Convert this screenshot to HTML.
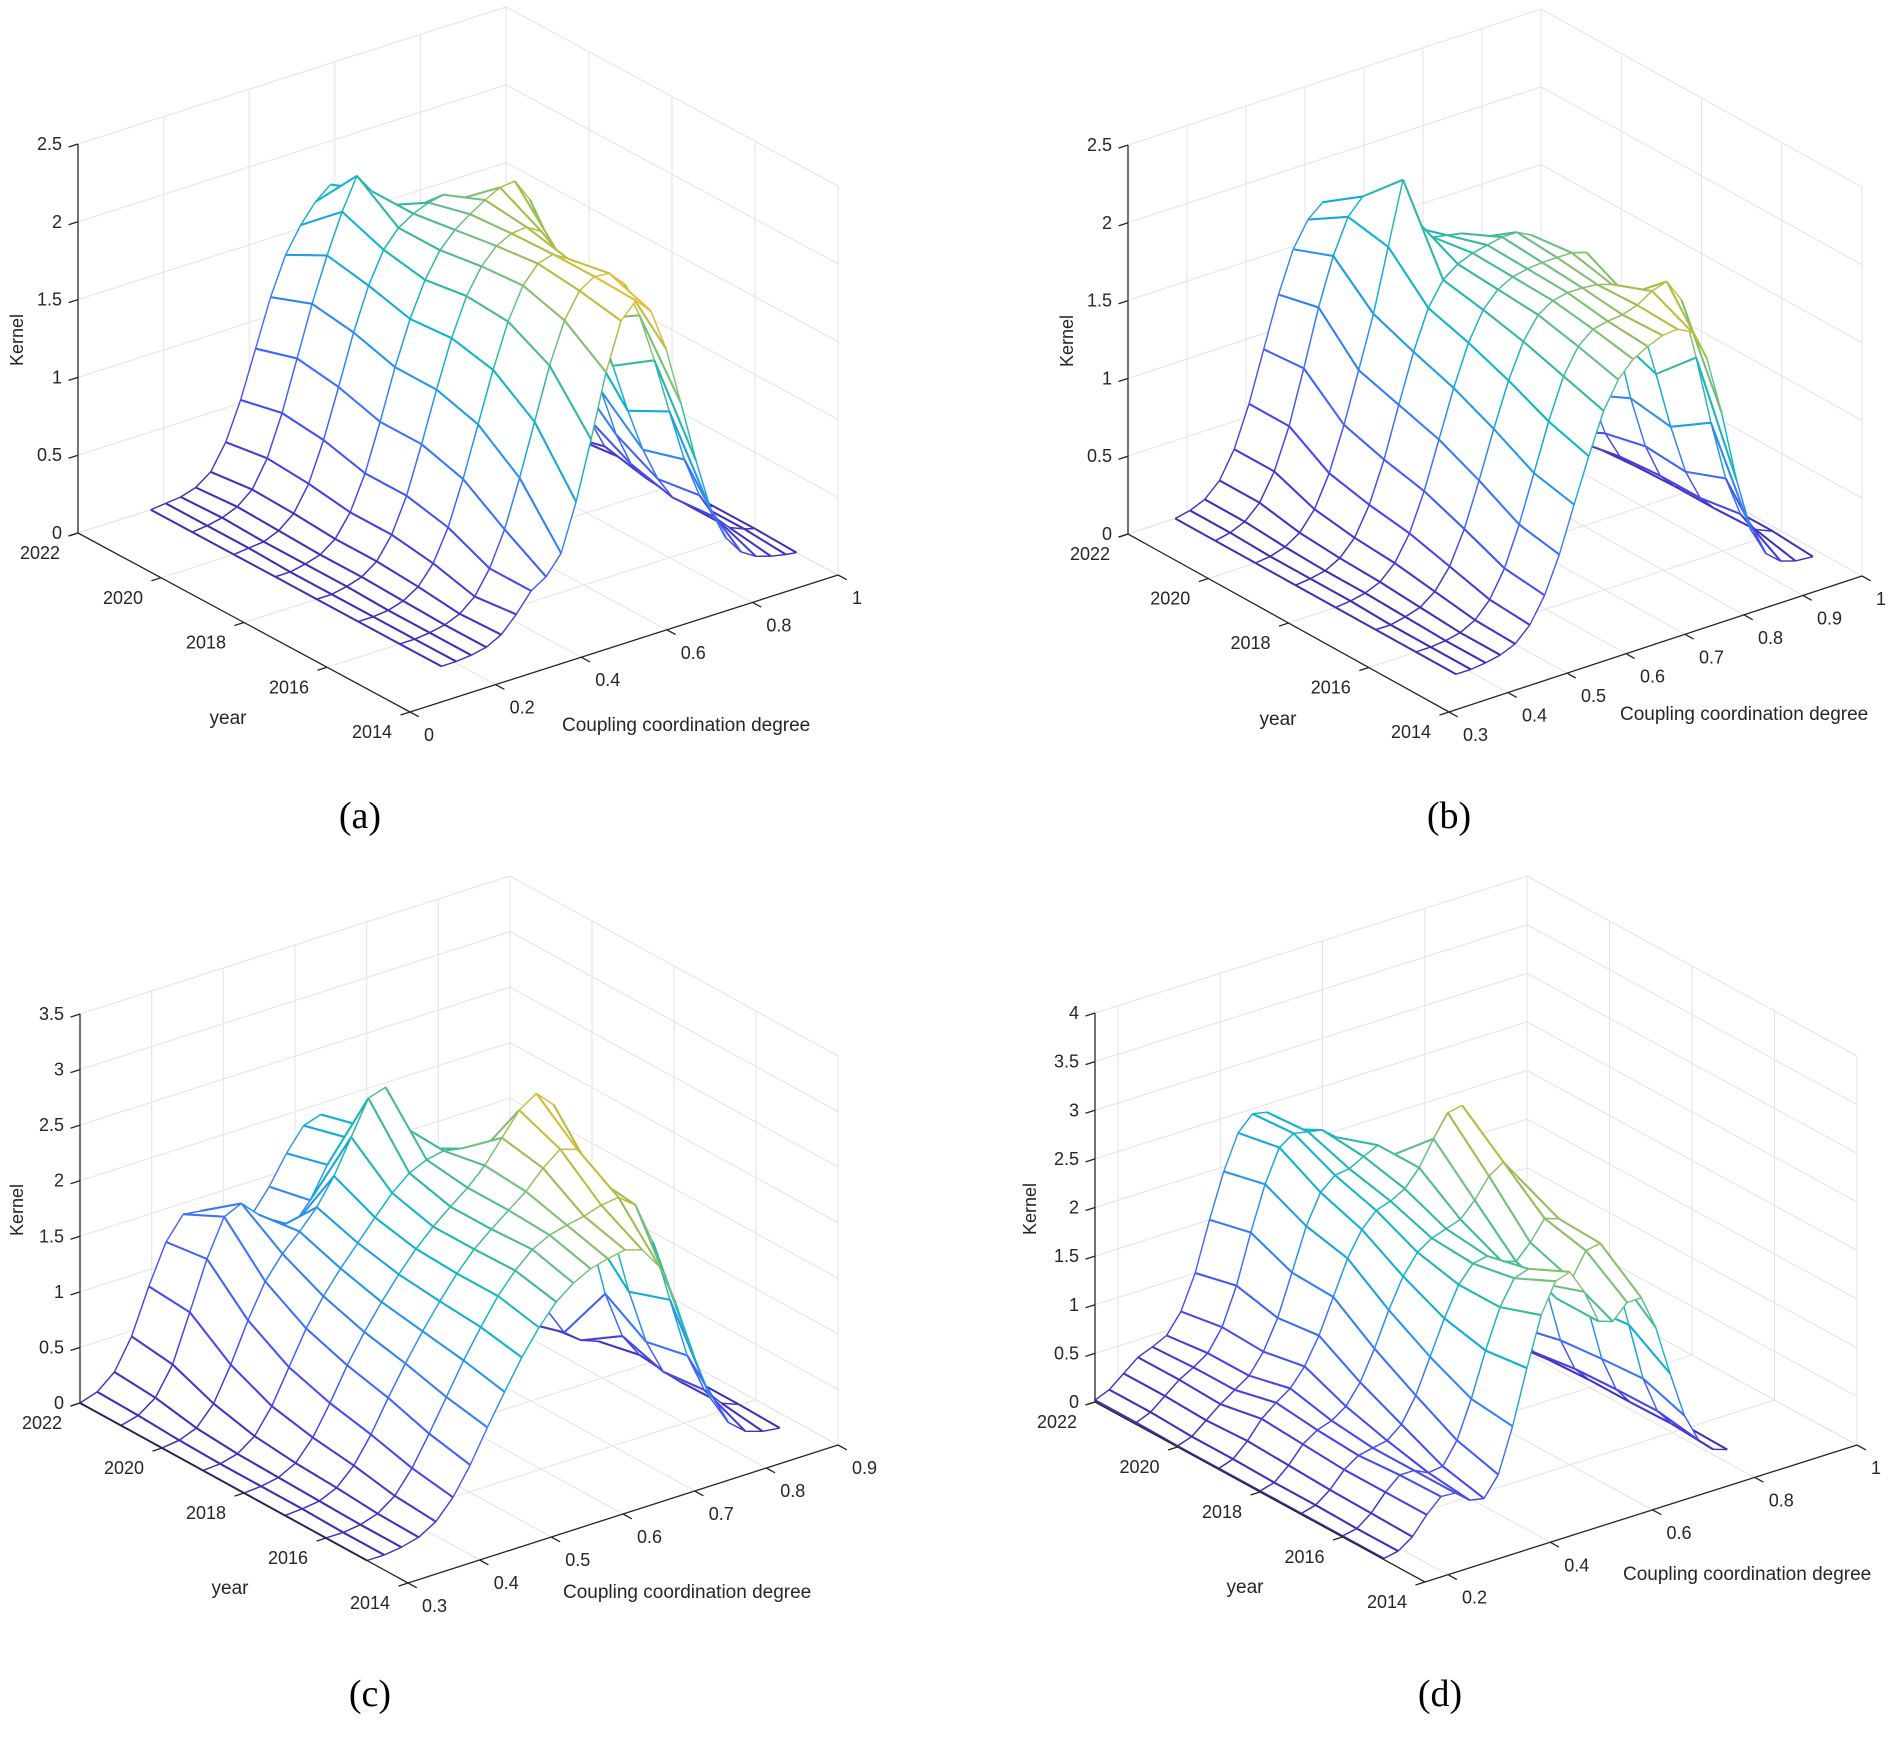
<!DOCTYPE html>
<html>
<head>
<meta charset="utf-8">
<style>
html,body{margin:0;padding:0;background:#fff;}
svg{display:block;}
text{font-family:"Liberation Sans",Arial,sans-serif;fill:#262626;}
.cap{font-family:"Liberation Serif","Times New Roman",serif;fill:#000;}
</style>
</head>
<body>
<svg id="fig" width="1902" height="1737" viewBox="0 0 1902 1737" xmlns="http://www.w3.org/2000/svg">
  <rect x="0" y="0" width="1902" height="1737" fill="#fff"/>
  <text class="cap" x="360" y="828" font-size="38" text-anchor="middle">(a)</text>
  <text class="cap" x="1449" y="828" font-size="38" text-anchor="middle">(b)</text>
  <text class="cap" x="370" y="1706" font-size="38" text-anchor="middle">(c)</text>
  <text class="cap" x="1440" y="1706" font-size="38" text-anchor="middle">(d)</text>
</svg>
<script>
// ---------- DATA ----------
const meshYears = [2022, 2021, 2020, 2019, 2018, 2017, 2016, 2015];
const yearTicks = [2014, 2016, 2018, 2020, 2022];

// Panel (a)
const xA = [0.17,0.205,0.24,0.275,0.31,0.345,0.38,0.415,0.45,0.485,0.52,0.555,0.59,0.625,0.66,0.695,0.73,0.765,0.80,0.835,0.87,0.905,0.94,0.975,1.0];
const kernelA = [
  [0,0.01,0.02,0.05,0.12,0.28,0.52,0.82,1.12,1.36,1.52,1.64,1.72,1.68,1.55,1.35,1.1,0.82,0.56,0.34,0.18,0.08,0.03,0.01,0],
  [0,0.01,0.03,0.07,0.15,0.32,0.58,0.9,1.22,1.5,1.75,1.95,1.82,1.7,1.62,1.5,1.3,1.02,0.72,0.45,0.25,0.12,0.05,0.02,0],
  [0,0.01,0.02,0.06,0.14,0.3,0.55,0.86,1.18,1.45,1.65,1.76,1.82,1.86,1.88,1.82,1.65,1.38,1.02,0.68,0.4,0.2,0.09,0.03,0.01],
  [0,0,0.02,0.05,0.12,0.26,0.48,0.78,1.1,1.38,1.6,1.76,1.86,1.93,1.99,2.04,2.05,1.9,1.55,1.1,0.68,0.36,0.16,0.06,0.02],
  [0,0,0.02,0.05,0.12,0.26,0.48,0.78,1.1,1.4,1.64,1.8,1.9,1.95,1.96,1.9,1.75,1.48,1.12,0.75,0.44,0.22,0.1,0.04,0.01],
  [0,0,0.01,0.04,0.1,0.22,0.42,0.7,1.02,1.34,1.62,1.82,1.93,1.96,1.9,1.72,1.45,1.12,0.8,0.52,0.3,0.15,0.07,0.03,0.01],
  [0,0,0.01,0.03,0.07,0.15,0.3,0.52,0.82,1.15,1.48,1.74,1.9,1.96,1.95,1.85,1.62,1.3,0.94,0.6,0.34,0.17,0.07,0.03,0.01],
  [0,0,0.01,0.03,0.08,0.18,0.3,0.36,0.48,0.78,1.15,1.55,1.85,1.95,1.85,1.58,1.2,0.8,0.45,0.24,0.12,0.06,0.03,0.01,0]
];
const xTicksA = [0, 0.2, 0.4, 0.6, 0.8, 1];
const xTickLabelsA = ["0","0.2","0.4","0.6","0.8","1"];
const zTicksA = [0, 0.5, 1, 1.5, 2, 2.5];
const zTickLabelsA = ["0","0.5","1","1.5","2","2.5"];

// Panel (b)
const xB = [0.38,0.405,0.43,0.455,0.48,0.505,0.53,0.555,0.58,0.605,0.63,0.655,0.68,0.705,0.73,0.755,0.78,0.805,0.83,0.855,0.88,0.905,0.93,0.955,0.985];
const kernelB = [
  [0,0.02,0.06,0.15,0.32,0.58,0.9,1.22,1.48,1.64,1.72,1.7,1.62,1.5,1.35,1.18,0.98,0.76,0.54,0.35,0.2,0.1,0.04,0.02,0],
  [0,0.02,0.06,0.15,0.32,0.58,0.92,1.28,1.58,1.8,1.9,1.86,1.75,1.62,1.5,1.36,1.18,0.95,0.7,0.46,0.27,0.14,0.06,0.02,0],
  [0,0.01,0.04,0.1,0.22,0.42,0.7,1.02,1.35,1.75,2.15,1.85,1.72,1.7,1.68,1.62,1.48,1.25,0.96,0.66,0.4,0.2,0.09,0.03,0.01],
  [0,0.01,0.03,0.08,0.18,0.36,0.62,0.94,1.25,1.5,1.65,1.72,1.76,1.78,1.8,1.8,1.75,1.6,1.32,0.95,0.6,0.32,0.14,0.05,0.01],
  [0,0.01,0.03,0.07,0.16,0.32,0.56,0.86,1.16,1.42,1.6,1.7,1.75,1.77,1.78,1.78,1.78,1.75,1.55,1.15,0.72,0.38,0.16,0.06,0.02],
  [0,0,0.02,0.05,0.12,0.25,0.46,0.74,1.04,1.32,1.54,1.68,1.74,1.76,1.76,1.75,1.72,1.62,1.4,1.05,0.68,0.36,0.16,0.06,0.02],
  [0,0,0.01,0.03,0.08,0.18,0.35,0.6,0.9,1.2,1.46,1.62,1.7,1.72,1.73,1.76,1.82,1.85,1.7,1.3,0.85,0.46,0.2,0.07,0.02],
  [0,0,0.01,0.03,0.07,0.16,0.32,0.55,0.84,1.12,1.38,1.55,1.65,1.7,1.74,1.75,1.7,1.5,1.12,0.66,0.3,0.12,0.04,0.01,0]
];
const xTicksB = [0.3,0.4,0.5,0.6,0.7,0.8,0.9,1];
const xTickLabelsB = ["0.3","0.4","0.5","0.6","0.7","0.8","0.9","1"];
const zTicksB = [0, 0.5, 1, 1.5, 2, 2.5];
const zTickLabelsB = ["0","0.5","1","1.5","2","2.5"];

// Panel (c)
const xC = [0.30,0.324,0.348,0.372,0.396,0.42,0.444,0.468,0.492,0.516,0.54,0.564,0.588,0.612,0.636,0.66,0.684,0.708,0.732,0.756,0.78,0.804,0.828,0.852,0.876];
const kernelC = [
  [0,0.05,0.18,0.45,0.85,1.2,1.4,1.38,1.25,1.15,1.2,1.4,1.65,1.85,1.9,1.75,1.4,0.95,0.55,0.28,0.12,0.05,0.02,0.01,0],
  [0,0.04,0.15,0.4,0.82,1.25,1.58,1.65,1.5,1.32,1.3,1.48,1.75,1.95,2.0,1.85,1.5,1.05,0.62,0.32,0.14,0.06,0.02,0.01,0],
  [0,0.02,0.08,0.25,0.55,0.9,1.2,1.4,1.55,1.72,1.95,2.25,2.55,2.6,2.2,1.95,1.7,1.3,0.85,0.48,0.22,0.09,0.03,0.01,0],
  [0,0.01,0.05,0.16,0.38,0.68,0.98,1.22,1.42,1.6,1.78,1.95,2.08,2.15,2.18,2.15,2.05,1.8,1.35,0.85,0.45,0.2,0.08,0.02,0],
  [0,0.01,0.04,0.12,0.3,0.56,0.85,1.1,1.32,1.52,1.7,1.85,1.98,2.1,2.25,2.45,2.65,2.75,2.6,2.1,1.4,0.75,0.32,0.1,0.02],
  [0,0.01,0.03,0.1,0.25,0.48,0.76,1.02,1.26,1.48,1.68,1.85,1.98,2.1,2.22,2.38,2.5,2.45,2.15,1.62,1.02,0.52,0.2,0.06,0.01],
  [0,0,0.02,0.07,0.18,0.38,0.64,0.92,1.2,1.45,1.68,1.86,2.0,2.08,2.12,2.15,2.2,2.22,2.1,1.72,1.15,0.6,0.24,0.07,0.01],
  [0,0,0.02,0.06,0.15,0.32,0.56,0.85,1.12,1.38,1.6,1.78,1.9,1.98,2.02,2.05,2.0,1.8,1.4,0.9,0.46,0.2,0.07,0.02,0]
];
const xTicksC = [0.3,0.4,0.5,0.6,0.7,0.8,0.9];
const xTickLabelsC = ["0.3","0.4","0.5","0.6","0.7","0.8","0.9"];
const zTicksC = [0,0.5,1,1.5,2,2.5,3,3.5];
const zTickLabelsC = ["0","0.5","1","1.5","2","2.5","3","3.5"];

// Panel (d)
const xD = [0.155,0.183,0.211,0.239,0.267,0.295,0.323,0.351,0.379,0.407,0.435,0.463,0.491,0.519,0.547,0.575,0.603,0.631,0.659,0.687,0.715,0.743,0.771,0.799,0.827];
const kernelD = [
  [0.02,0.08,0.2,0.32,0.38,0.45,0.65,1.0,1.5,1.95,2.3,2.45,2.42,2.2,1.8,1.35,0.95,0.62,0.38,0.22,0.12,0.06,0.02,0.01,0],
  [0.02,0.08,0.2,0.32,0.4,0.5,0.72,1.1,1.6,2.05,2.38,2.48,2.45,2.42,2.3,1.95,1.45,0.95,0.55,0.28,0.12,0.05,0.02,0,0],
  [0.01,0.06,0.18,0.3,0.4,0.5,0.7,1.0,1.42,1.85,2.15,2.28,2.3,2.38,2.45,2.3,1.9,1.35,0.82,0.44,0.2,0.08,0.03,0.01,0],
  [0.01,0.06,0.2,0.38,0.5,0.6,0.78,1.05,1.4,1.75,2.0,2.15,2.2,2.28,2.45,2.7,2.92,2.95,2.6,1.85,1.05,0.48,0.18,0.06,0.01],
  [0.01,0.05,0.18,0.35,0.45,0.5,0.6,0.8,1.1,1.45,1.75,1.95,2.05,2.1,2.15,2.3,2.5,2.6,2.4,1.85,1.15,0.58,0.24,0.08,0.02],
  [0.01,0.05,0.16,0.32,0.42,0.45,0.48,0.6,0.85,1.2,1.55,1.85,2.02,2.05,1.95,1.9,2.05,2.25,2.2,1.8,1.2,0.62,0.26,0.08,0.02],
  [0.01,0.04,0.15,0.32,0.45,0.45,0.38,0.4,0.62,1.0,1.45,1.85,2.1,2.15,1.95,1.75,1.9,2.15,2.18,1.85,1.25,0.65,0.27,0.09,0.02],
  [0.01,0.04,0.14,0.32,0.46,0.45,0.33,0.3,0.5,0.95,1.5,2.0,2.3,2.35,2.1,1.75,1.7,1.85,1.85,1.5,0.98,0.5,0.2,0.06,0.01]
];
const xTicksD = [0.2,0.4,0.6,0.8,1];
const xTickLabelsD = ["0.2","0.4","0.6","0.8","1"];
const zTicksD = [0,0.5,1,1.5,2,2.5,3,3.5,4];
const zTickLabelsD = ["0","0.5","1","1.5","2","2.5","3","3.5","4"];

// ---------- RENDERING ----------
const NS = "http://www.w3.org/2000/svg";
const svg = document.getElementById('fig');

const parulaStops = [
  [0.0,[62,38,168]],[0.1,[71,71,235]],[0.2,[62,111,250]],[0.3,[39,150,235]],
  [0.4,[8,181,208]],[0.5,[51,184,161]],[0.6,[113,191,128]],[0.7,[178,189,61]],
  [0.8,[241,186,53]],[0.9,[252,206,37]],[1.0,[249,240,14]]
];
function parula(v){
  v = Math.max(0, Math.min(1, v));
  for (let i = 1; i < parulaStops.length; i++){
    if (v <= parulaStops[i][0]){
      const a = parulaStops[i-1], b = parulaStops[i];
      const f = (v - a[0]) / (b[0] - a[0]);
      const c = a[1].map((ch, k) => Math.round(ch + (b[1][k] - ch) * f));
      return 'rgb(' + c.join(',') + ')';
    }
  }
  return 'rgb(249,240,14)';
}

function mk(tag, attrs, parent){
  const el = document.createElementNS(NS, tag);
  for (const k in attrs) el.setAttribute(k, attrs[k]);
  parent.appendChild(el);
  return el;
}

function drawPanel(cfg, xs, rows, xTicks, xTickLabels, zTicks, zTickLabels){
  const g = mk('g', {}, svg);
  
  
  const zTop = zTicks[zTicks.length - 1];
  const H = 389;
  const FL = [cfg.F[0] - cfg.L[0], cfg.F[1] - cfg.L[1]];
  const RF = [cfg.R[0] - cfg.F[0], cfg.R[1] - cfg.F[1]];
  const xScale = x => (x - cfg.xmin) / (cfg.xmax - cfg.xmin);
  const yScale = yr => (2022 - yr) / 8;
  const zScale = z => z / zTop * H;
  function P(x, yr, z){
    const a = xScale(x), b = yScale(yr);
    return [cfg.L[0] + b * FL[0] + a * RF[0], cfg.L[1] + b * FL[1] + a * RF[1] - zScale(z)];
  }
  const nRF = Math.hypot(RF[0], RF[1]), nFL = Math.hypot(FL[0], FL[1]);
  const ux = [RF[0] / nRF, RF[1] / nRF], uy = [FL[0] / nFL, FL[1] / nFL];

  function line(p, q, color, w, name){
    const l = mk('line', {x1: p[0].toFixed(1), y1: p[1].toFixed(1), x2: q[0].toFixed(1), y2: q[1].toFixed(1), stroke: color, 'stroke-width': w}, g);
    
    
    return l;
  }
  const gc = '#e3e3e3';
  xTicks.forEach(x => line(P(x, 2022, 0), P(x, 2022, zTop), gc, 1, 'gridline-back-x'));
  zTicks.forEach(z => line(P(cfg.xmin, 2022, z), P(cfg.xmax, 2022, z), gc, 1, 'gridline-back-z'));
  yearTicks.forEach(y => line(P(cfg.xmax, y, 0), P(cfg.xmax, y, zTop), gc, 1, 'gridline-side-year'));
  zTicks.forEach(z => line(P(cfg.xmax, 2022, z), P(cfg.xmax, 2014, z), gc, 1, 'gridline-side-z'));
  xTicks.forEach(x => line(P(x, 2022, 0), P(x, 2014, 0), gc, 1, 'gridline-floor-x'));
  yearTicks.forEach(y => line(P(cfg.xmin, y, 0), P(cfg.xmax, y, 0), gc, 1, 'gridline-floor-year'));

  const mesh = mk('g', {}, g);
  
  
  let zmax = 0;
  rows.forEach(r => r.forEach(v => { if (v > zmax) zmax = v; }));
  const xn0 = xs[0], xn1 = xs[xs.length - 1];
  function col(x, yr, z){
    const xn = (x - xn0) / (xn1 - xn0);
    const tn = (2022 - yr) / 7;
    return parula((z / zmax) * (0.2 + 0.5 * xn + 0.35 * tn) + 0.02);
  }
  const quads = [];
  for (let t = 0; t < meshYears.length - 1; t++){
    for (let i = 0; i < xs.length - 1; i++){
      quads.push({t, i, d: (t + 0.5) / 8 - ((xs[i] + xs[i + 1]) / 2 - cfg.xmin) / (cfg.xmax - cfg.xmin)});
    }
  }
  quads.sort((a, b) => a.d - b.d);
  quads.forEach(q => {
    const t = q.t, i = q.i;
    const y0 = meshYears[t], y1 = meshYears[t + 1];
    const z00 = rows[t][i], z01 = rows[t][i + 1], z10 = rows[t + 1][i], z11 = rows[t + 1][i + 1];
    const p00 = P(xs[i], y0, z00), p01 = P(xs[i + 1], y0, z01), p10 = P(xs[i], y1, z10), p11 = P(xs[i + 1], y1, z11);
    const poly = mk('polygon', {points: [p00, p01, p11, p10].map(p => p[0].toFixed(1) + ',' + p[1].toFixed(1)).join(' '), fill: '#fff', stroke: 'none'}, mesh);
    
    
    const ew = 1.4, yw = 2.0;
    const e1 = mk('line', {x1: p00[0].toFixed(1), y1: p00[1].toFixed(1), x2: p01[0].toFixed(1), y2: p01[1].toFixed(1), stroke: col((xs[i] + xs[i + 1]) / 2, y0, (z00 + z01) / 2), 'stroke-width': ew}, mesh);
    
    
    const e2 = mk('line', {x1: p10[0].toFixed(1), y1: p10[1].toFixed(1), x2: p11[0].toFixed(1), y2: p11[1].toFixed(1), stroke: col((xs[i] + xs[i + 1]) / 2, y1, (z10 + z11) / 2), 'stroke-width': ew}, mesh);
    
    
    const e3 = mk('line', {x1: p00[0].toFixed(1), y1: p00[1].toFixed(1), x2: p10[0].toFixed(1), y2: p10[1].toFixed(1), stroke: col(xs[i], (y0 + y1) / 2, (z00 + z10) / 2), 'stroke-width': yw}, mesh);
    
    
    const e4 = mk('line', {x1: p01[0].toFixed(1), y1: p01[1].toFixed(1), x2: p11[0].toFixed(1), y2: p11[1].toFixed(1), stroke: col(xs[i + 1], (y0 + y1) / 2, (z01 + z11) / 2), 'stroke-width': yw}, mesh);
    
    
  });

  const ac = '#262626';
  line(P(cfg.xmin, 2022, 0), P(cfg.xmin, 2022, zTop), ac, 1.3, 'z-axis-line');
  line(P(cfg.xmin, 2022, 0), P(cfg.xmin, 2014, 0), ac, 1.3, 'year-axis-line');
  line(P(cfg.xmin, 2014, 0), P(cfg.xmax, 2014, 0), ac, 1.3, 'x-axis-line');

  function txt(x, y, s, anchor, size, name){
    const t = mk('text', {x: x.toFixed(1), y: y.toFixed(1), 'font-size': size, 'text-anchor': anchor}, g);
    t.textContent = s;
    
    
    return t;
  }
  zTicks.forEach((z, k) => {
    const p = P(cfg.xmin, 2022, z);
    line(p, [p[0] - 10 * ux[0], p[1] - 10 * ux[1]], ac, 1.3, 'z-tick');
    txt(p[0] - 16, p[1] + 6, zTickLabels[k], 'end', 18, 'z-tick-label');
  });
  yearTicks.forEach(y => {
    const p = P(cfg.xmin, y, 0);
    line(p, [p[0] - 10 * ux[0], p[1] - 10 * ux[1]], ac, 1.3, 'year-tick');
    txt(p[0] - 18, p[1] + 26, String(y), 'end', 18, 'year-tick-label');
  });
  xTicks.forEach((x, k) => {
    const p = P(x, 2014, 0);
    line(p, [p[0] + 10 * uy[0], p[1] + 10 * uy[1]], ac, 1.3, 'x-tick');
    txt(p[0] + 14, p[1] + 29, xTickLabels[k], 'start', 18, 'x-tick-label');
  });
  const kx = cfg.L[0] + cfg.kernelDx, ky = cfg.L[1] - 193;
  const kt = txt(kx, ky, 'Kernel', 'middle', 18, 'z-axis-title');
  kt.setAttribute('transform', 'rotate(-90 ' + kx.toFixed(1) + ' ' + ky.toFixed(1) + ')');
  kt.setAttribute('dy', '6');
  txt(cfg.L[0] + 150, cfg.L[1] + 191, 'year', 'middle', 19, 'year-axis-title');
  txt(cfg.F[0] + cfg.xtDx, cfg.F[1] + cfg.xtDy, 'Coupling coordination degree', 'start', 19, 'x-axis-title');
}

drawPanel({id:'a', L:[78,533], F:[410,712], R:[838,575], xmin:0, xmax:1, kernelDx:-61, xtDx:152, xtDy:19}, xA, kernelA, xTicksA, xTickLabelsA, zTicksA, zTickLabelsA);
drawPanel({id:'b', L:[1128,534], F:[1449,712], R:[1862,576], xmin:0.3, xmax:1, kernelDx:-61, xtDx:171, xtDy:8}, xB, kernelB, xTicksB, xTickLabelsB, zTicksB, zTickLabelsB);
drawPanel({id:'c', L:[80,1403], F:[408,1583], R:[838,1445], xmin:0.3, xmax:0.9, kernelDx:-63, xtDx:155, xtDy:15}, xC, kernelC, xTicksC, xTickLabelsC, zTicksC, zTickLabelsC);
drawPanel({id:'d', L:[1095,1402], F:[1425,1582], R:[1857,1445], xmin:0.155, xmax:1, kernelDx:-65, xtDx:198, xtDy:-2}, xD, kernelD, xTicksD, xTickLabelsD, zTicksD, zTickLabelsD);
</script>
</body>
</html>
